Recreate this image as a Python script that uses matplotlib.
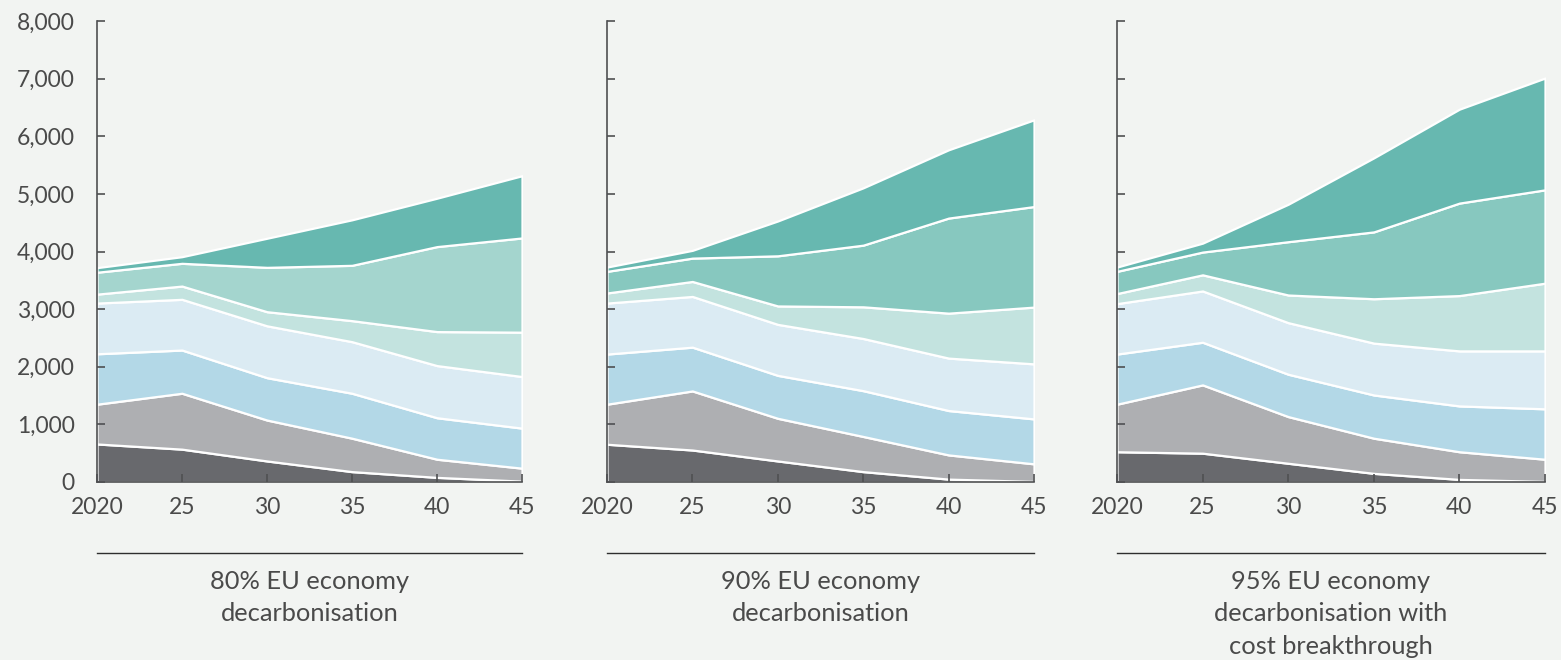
import matplotlib
matplotlib.use("Agg")
import matplotlib.pyplot as plt
import numpy as np

years = [2020, 2025, 2030, 2035, 2040, 2045]
xtick_labels = ["2020", "25", "30", "35", "40", "45"]
yticks = [0, 1000, 2000, 3000, 4000, 5000, 6000, 7000, 8000]
ytick_labels = ["0", "1,000", "2,000", "3,000", "4,000", "5,000", "6,000", "7,000", "8,000"]

titles = [
    "80% EU economy\ndecarbonisation",
    "90% EU economy\ndecarbonisation",
    "95% EU economy\ndecarbonisation with\ncost breakthrough",
]

# Layer values (bottom to top) for each scenario
p1_l1 = [660, 570, 365, 180, 80, 15]
p1_l2 = [690, 970, 710, 580, 315, 225]
p1_l3 = [875, 750, 735, 780, 720, 695]
p1_l4 = [880, 880, 900, 895, 905, 895]
p1_l5 = [155, 230, 245, 365, 590, 770]
p1_l6 = [380, 395, 770, 960, 1475, 1635]
p1_l7 = [80, 115, 505, 790, 840, 1080]

p2_l1 = [655, 555, 365, 180, 50, 10]
p2_l2 = [695, 1025, 740, 610, 420, 305]
p2_l3 = [870, 760, 745, 795, 770, 780]
p2_l4 = [885, 880, 885, 905, 910, 955]
p2_l5 = [175, 260, 320, 550, 780, 985]
p2_l6 = [375, 405, 870, 1070, 1650, 1745]
p2_l7 = [75, 135, 605, 995, 1185, 1505]

p3_l1 = [525, 500, 325, 150, 45, 10]
p3_l2 = [825, 1185, 810, 610, 480, 385]
p3_l3 = [870, 740, 735, 750, 795, 875]
p3_l4 = [875, 890, 895, 900, 955, 1005]
p3_l5 = [175, 280, 480, 770, 960, 1175]
p3_l6 = [385, 395, 925, 1160, 1605, 1620]
p3_l7 = [75, 155, 650, 1285, 1630, 1940]

panels = [
    [p1_l1, p1_l2, p1_l3, p1_l4, p1_l5, p1_l6, p1_l7],
    [p2_l1, p2_l2, p2_l3, p2_l4, p2_l5, p2_l6, p2_l7],
    [p3_l1, p3_l2, p3_l3, p3_l4, p3_l5, p3_l6, p3_l7],
]

bg = "#F2F4F2"
base_colors = ["#68696D", "#AEAFB2", "#B3D8E7", "#DBEBF3", "#C3E3DF", "#87C8BF", "#67B8B0"]
panel_colors = [
    ["#68696D", "#AEAFB2", "#B3D8E7", "#DBEBF3", "#C3E3DF", "#A4D5CE", "#67B8B0"],
    base_colors,
    base_colors,
]
text_color = "#4A4A4A"
spine_color = "#4F5052"

plt.rcParams['font.family'] = ['Lato', 'DejaVu Sans']

fig = plt.figure(figsize=(15.61, 6.60), dpi=100, facecolor=bg)

W, H = 1561.0, 660.0
lefts = [97, 607, 1117]
widths = [425, 427, 428]
top_px, bot_px = 21, 482

for i, (layers, cols, title) in enumerate(zip(panels, panel_colors, titles)):
    ax = fig.add_axes([lefts[i] / W, 1 - bot_px / H, widths[i] / W, (bot_px - top_px) / H])
    ax.set_facecolor(bg)
    ax.stackplot(years, *layers, colors=cols, edgecolor="white", linewidth=1.6)
    ax.set_xlim(2020, 2045)
    ax.set_ylim(0, 8000)
    ax.set_xticks(years)
    ax.set_xticklabels(xtick_labels)
    ax.set_yticks(yticks)
    if i == 0:
        ax.set_yticklabels(ytick_labels)
    else:
        ax.set_yticklabels([])
    for s in ["top", "right"]:
        ax.spines[s].set_visible(False)
    for s in ["left", "bottom"]:
        ax.spines[s].set_color(spine_color)
        ax.spines[s].set_linewidth(1.2)
        ax.spines[s].set_zorder(5)
    ax.tick_params(axis="both", direction="in", length=6, width=1.2, color=spine_color,
                   labelcolor=text_color, labelsize=16.5)
    ax.tick_params(axis="y", pad=16)
    ax.tick_params(axis="x", pad=11)
    # separator line and title
    ax.plot([0, 1], [-0.154, -0.154], transform=ax.transAxes, color="#2E2E2E",
            linewidth=1.0, clip_on=False)
    ax.text(0.5, -0.19, title, transform=ax.transAxes, ha="center", va="top",
            fontsize=18.3, color=text_color, linespacing=1.5)

fig.savefig("out.png", dpi=100, facecolor=bg)
